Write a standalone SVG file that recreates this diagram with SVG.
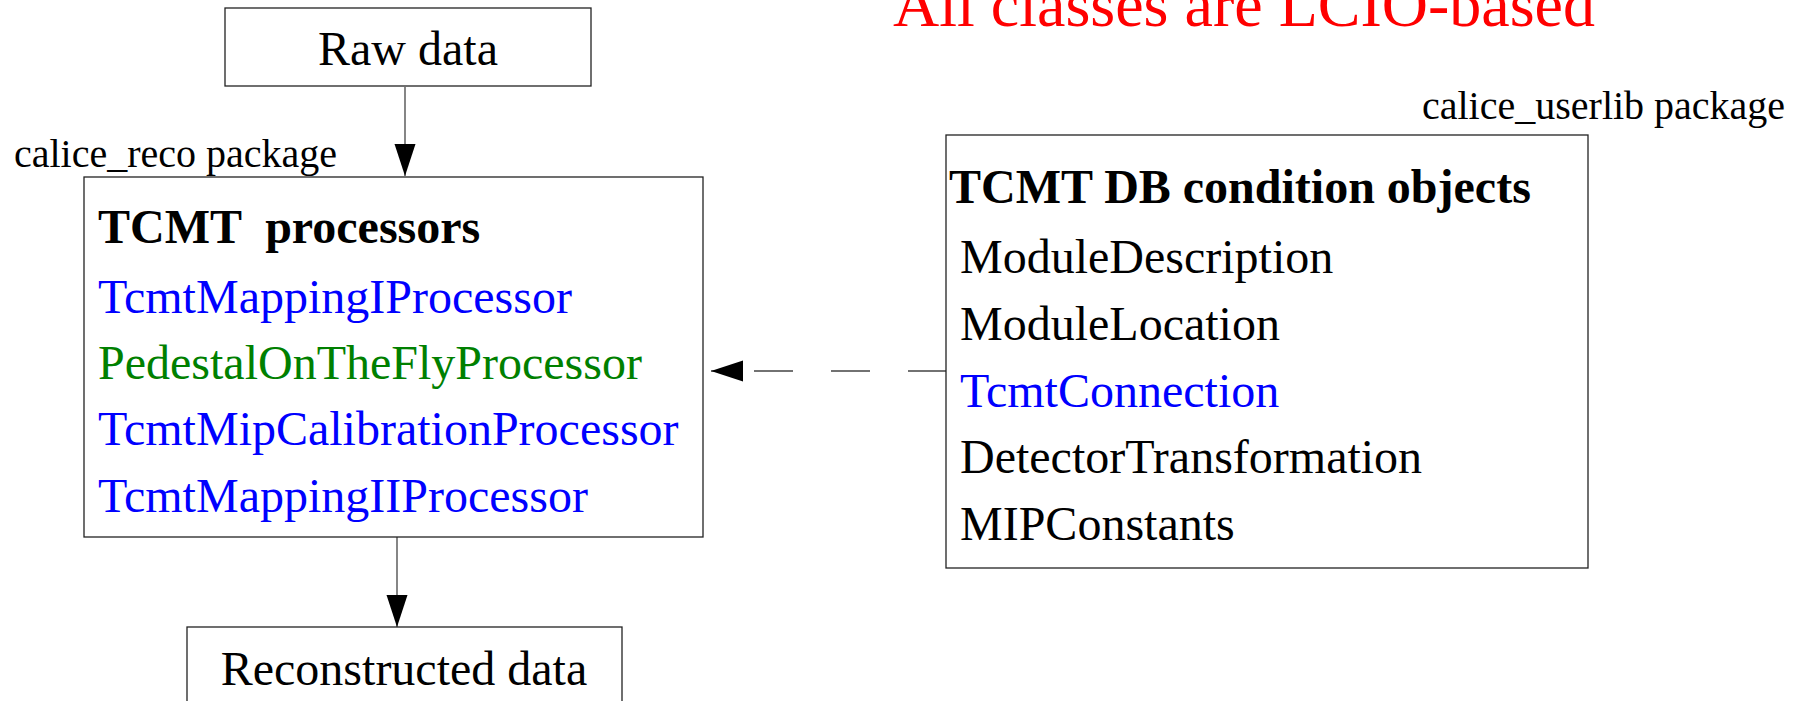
<svg xmlns="http://www.w3.org/2000/svg" width="1807" height="701" viewBox="0 0 1807 701">
<style>
text { font-family: "Liberation Serif", "Times New Roman", serif; }
.box { fill: #fff; stroke: #222; stroke-width: 1.3; }
.t48 { font-size: 48px; fill: #000; }
.b48 { font-size: 48px; font-weight: bold; fill: #000; }
.pkg { font-size: 40px; fill: #000; }
.blue { fill: #0000ff; }
.green { fill: #008000; }
.conn { stroke: #444; stroke-width: 1.3; fill: none; }
</style>
<defs>
<marker id="arrow" markerUnits="userSpaceOnUse" markerWidth="33" markerHeight="22" refX="32" refY="10.5" orient="auto">
<path d="M0,0 L32,10.5 L0,21 z" fill="#000"/>
</marker>
</defs>
<rect width="1807" height="701" fill="#fff"/>
<text x="893" y="26" style="font-size:64px" fill="#ff0000">All classes are LCIO-based</text>
<text class="pkg" x="14" y="167">calice_reco package</text>
<text class="pkg" x="1422" y="119">calice_userlib package</text>
<g id="connectors">
<path class="conn" d="M405,87 L405,176" marker-end="url(#arrow)"/>
<path class="conn" d="M397,537 L397,627" marker-end="url(#arrow)"/>
<path class="conn" d="M947,371 L711,371" stroke-dasharray="39 38" marker-end="url(#arrow)"/>
</g>
<g id="raw-data">
<rect class="box" x="225" y="8" width="366" height="78"/>
<text class="t48" x="408" y="65" text-anchor="middle">Raw data</text>
</g>
<g id="tcmt-processors">
<rect class="box" x="84" y="177" width="619" height="360"/>
<text class="b48" x="98" y="243" xml:space="preserve">TCMT  processors</text>
<text class="t48 blue" x="98" y="313">TcmtMappingIProcessor</text>
<text class="t48 green" x="98" y="379">PedestalOnTheFlyProcessor</text>
<text class="t48 blue" x="98" y="445">TcmtMipCalibrationProcessor</text>
<text class="t48 blue" x="98" y="512">TcmtMappingIIProcessor</text>
</g>
<g id="reconstructed-data">
<rect class="box" x="187" y="627" width="435" height="100"/>
<text class="t48" x="404" y="685" text-anchor="middle">Reconstructed data</text>
</g>
<g id="db-conditions">
<rect class="box" x="946" y="135" width="642" height="433"/>
<text class="b48" x="949" y="203">TCMT DB condition objects</text>
<text class="t48" x="960" y="273">ModuleDescription</text>
<text class="t48" x="960" y="340">ModuleLocation</text>
<text class="t48 blue" x="960" y="407">TcmtConnection</text>
<text class="t48" x="960" y="473">DetectorTransformation</text>
<text class="t48" x="960" y="540">MIPConstants</text>
</g>
</svg>
